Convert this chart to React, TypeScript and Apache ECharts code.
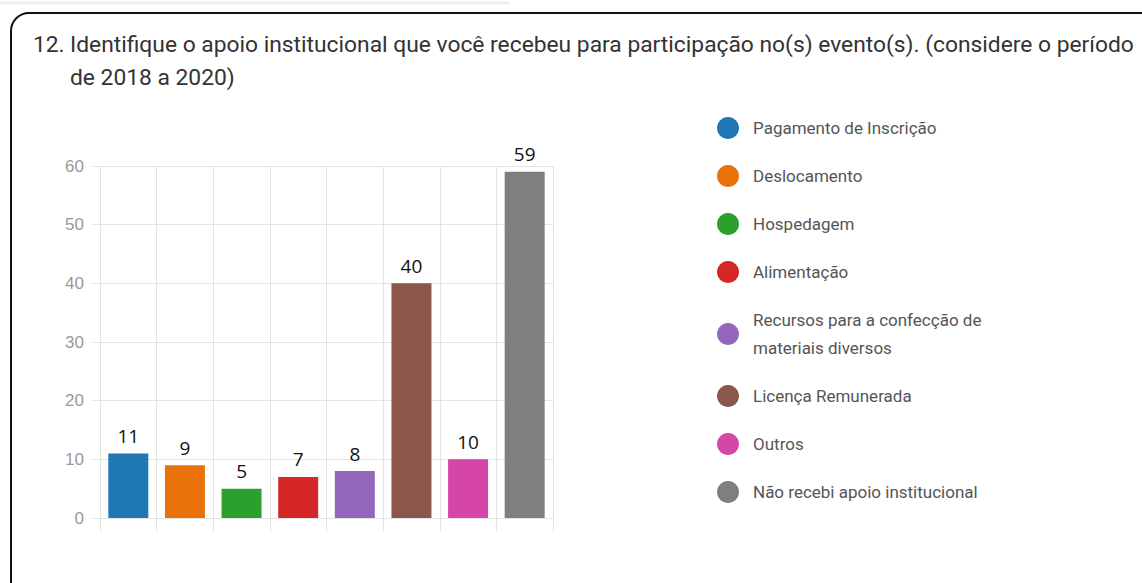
import React, { useEffect, useRef } from "react";
import * as echarts from "echarts";

const categories = [
  "Pagamento de Inscrição",
  "Deslocamento",
  "Hospedagem",
  "Alimentação",
  "Recursos para a confecção de\nmateriais diversos",
  "Licença Remunerada",
  "Outros",
  "Não recebi apoio institucional",
];
const values = [11, 9, 5, 7, 8, 40, 10, 59];
const colors = ["#1f77b4", "#e8710a", "#2ca02c", "#d62728", "#9467bd", "#8c564b", "#d546a8", "#7f7f7f"];
const yTicks = [0, 10, 20, 30, 40, 50, 60];
const titleNumber = "12.";
const titleText =
  "Identifique o apoio institucional que você recebeu para participação no(s) evento(s). (considere o período\nde 2018 a 2020)";

export default function App() {
  const ref = useRef<HTMLDivElement>(null);
  useEffect(() => {
    if (!ref.current) return;
    const chart = echarts.init(ref.current, null, { renderer: "svg" });
    const gridColor = "#e4e4e4";
    const series = categories.map((name, i) => ({
      name,
      type: "bar",
      stack: "all",
      barWidth: 40,
      data: values.map((v, j) => (j === i ? v : "-")),
      itemStyle: { color: colors[i] },
      label: {
        show: true,
        position: "top",
        distance: 8,
        color: "#111",
        fontSize: 19,
        fontFamily: "Open Sans",
      },
    }));
    const titleStyle = {
      fontSize: 22.8,
      fontWeight: "normal",
      color: "#333",
      fontFamily: "Roboto",
      lineHeight: 33,
    };
    chart.setOption({
      animation: false,
      backgroundColor: "#ffffff",
      textStyle: { fontFamily: "Roboto" },
      title: [
        { text: titleNumber, left: 33, top: 28, padding: 0, textStyle: titleStyle },
        { text: titleText, left: 70, top: 28, padding: 0, textStyle: titleStyle },
      ],
      graphic: [
        {
          type: "line",
          shape: { x1: 0, y1: 3, x2: 510, y2: 3 },
          style: { stroke: "#eaf0f2", lineWidth: 3 },
          silent: true,
        },
        {
          type: "rect",
          shape: { x: 11, y: 13, width: 1160, height: 600, r: 18 },
          style: { fill: "none", stroke: "#111", lineWidth: 2 },
          silent: true,
        },
      ],
      legend: {
        orient: "vertical",
        left: 712,
        top: 109,
        icon: "circle",
        itemWidth: 40,
        itemHeight: 22,
        itemGap: 20,
        data: categories,
        textStyle: { fontSize: 17, color: "#555", fontFamily: "Roboto", lineHeight: 28 },
      },
      grid: { left: 100, top: 166, width: 453, bottom: 65, containLabel: false },
      xAxis: {
        type: "category",
        data: categories,
        axisLabel: { show: false, interval: 0 },
        axisLine: { show: true, lineStyle: { color: gridColor } },
        axisTick: { show: true, interval: 0, length: 14, lineStyle: { color: gridColor } },
        splitLine: { show: true, interval: 0, lineStyle: { color: gridColor } },
      },
      yAxis: {
        type: "value",
        min: yTicks[0],
        max: yTicks[yTicks.length - 1],
        interval: 10,
        axisLine: { show: false },
        axisTick: { show: true, length: 8, lineStyle: { color: gridColor } },
        axisLabel: { color: "#999", fontSize: 17, margin: 16, fontFamily: "Liberation Sans" },
        splitLine: { show: true, lineStyle: { color: gridColor } },
      },
      series,
    });
    return () => chart.dispose();
  }, []);
  return (
    <div
      ref={ref}
      style={{ position: "fixed", left: 0, top: 0, width: 1142, height: 583 }}
    />
  );
}
